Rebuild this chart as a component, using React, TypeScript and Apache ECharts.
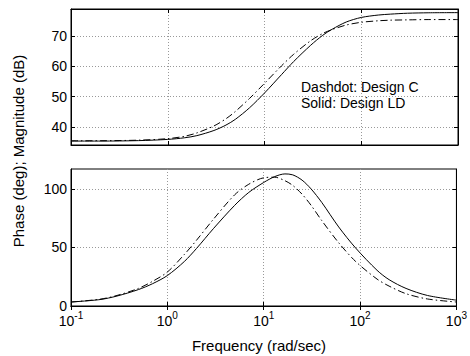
import React, { useEffect, useRef } from "react";
import * as echarts from "echarts";

// Frequencies (rad/sec)
const freqMag = [0.1, 0.2, 0.5, 1, 1.5, 2, 3, 4, 5, 7, 10, 15, 20, 30, 40, 50, 70, 100, 150, 200, 300, 500, 1000];
const magSolid = [35.3, 35.3, 35.45, 35.85, 36.4, 37.1, 38.8, 40.6, 42.5, 46.3, 51.2, 57.3, 61.6, 67.0, 70.3, 72.3, 74.7, 76.2, 77.0, 77.3, 77.6, 77.75, 77.8];
const magDash = [35.4, 35.42, 35.6, 36.1, 36.9, 38.0, 40.3, 42.7, 45.1, 49.4, 54.4, 60.2, 64.0, 68.5, 70.9, 72.2, 73.7, 74.6, 75.1, 75.3, 75.4, 75.5, 75.5];

const freqPh = [0.1, 0.2, 0.3, 0.5, 0.7, 1, 1.5, 2, 3, 5, 7, 10, 13, 16.6, 20, 25, 31, 40, 60, 90, 150, 200, 300, 500, 1000];
const phSolid = [3.4, 5.5, 8.5, 14, 19, 26, 38, 49, 66, 86, 97, 105.5, 110.5, 112.8, 112, 107.5, 100, 88.5, 67.5, 49.5, 30.5, 22.5, 15, 9, 5];
const phDash = [3.4, 5.8, 9.0, 15, 21, 29, 44, 56, 74, 95, 104, 109.5, 110, 107, 103, 95.5, 86, 73, 54, 38, 23, 17, 10.5, 6, 3.4];

const magTicks = [40, 50, 60, 70];
const phTicks = [0, 50, 100];

const FONT = "Liberation Sans, Arial, Helvetica, sans-serif";

export default function App() {
  const ref = useRef<HTMLDivElement>(null);
  useEffect(() => {
    if (!ref.current) return;
    const chart = echarts.init(ref.current, undefined, { renderer: "svg" });
    const grids = [
      { left: 71, right: 12, top: 9, height: 136, show: true, borderColor: "#000", borderWidth: 1, backgroundColor: "#fff" },
      { left: 71, right: 12, top: 169, height: 137, show: true, borderColor: "#000", borderWidth: 1, backgroundColor: "#fff" },
    ];
    const xBase = (gridIndex: number, position: string, labels: boolean, grid: boolean) => ({
      type: "log",
      logBase: 10,
      min: 0.1,
      max: 1000,
      gridIndex,
      position,
      axisLine: { show: true, lineStyle: { color: "#000", width: 1 } },
      axisTick: { show: true, inside: true, length: 4, lineStyle: { color: "#000" } },
      minorTick: { show: false },
      splitLine: { show: grid, lineStyle: { color: "#999", type: [1, 2], width: 1 } },
      axisLabel: {
        show: labels,
        margin: 4,
        fontFamily: FONT,
        color: "#000",
        formatter: (v: number) => `{b|10}{s|${Math.round(Math.log10(v))}}`,
        rich: {
          b: { fontSize: 14, fontFamily: FONT, color: "#000", verticalAlign: "bottom", lineHeight: 18 },
          s: { fontSize: 10, fontFamily: FONT, color: "#000", verticalAlign: "top", lineHeight: 18 },
        },
      },
    });
    const yBase = (gridIndex: number, position: string, labels: boolean, grid: boolean, min: number, max: number, ticks: number[]) => ({
      type: "value",
      gridIndex,
      position,
      min,
      max,
      axisLine: { show: true, lineStyle: { color: "#000", width: 1 } },
      axisTick: { show: true, inside: true, length: 4, customValues: ticks, lineStyle: { color: "#000" } },
      splitLine: { show: grid, lineStyle: { color: "#999", type: [1, 2], width: 1 } },
      axisLabel: { show: labels, customValues: ticks, margin: 4, fontSize: 14, fontFamily: FONT, color: "#000" },
    });
    const magMin = 34, magMax = 79, phMin = 0, phMax = 117;
    const mk = (xs: number[], ys: number[]) => xs.map((x, i) => [x, ys[i]]);
    const dashdot = [7, 3, 1.5, 3];
    chart.setOption({
      animation: false,
      backgroundColor: "#fff",
      grid: grids,
      xAxis: [
        xBase(0, "bottom", false, true),
        xBase(0, "top", false, false),
        xBase(1, "bottom", true, true),
        xBase(1, "top", false, false),
      ],
      yAxis: [
        yBase(0, "left", true, true, magMin, magMax, magTicks),
        yBase(0, "right", false, false, magMin, magMax, magTicks),
        yBase(1, "left", true, true, phMin, phMax, phTicks),
        yBase(1, "right", false, false, phMin, phMax, phTicks),
      ],
      series: [
        { type: "line", xAxisIndex: 0, yAxisIndex: 0, data: mk(freqMag, magSolid), showSymbol: false, smooth: 0.3, lineStyle: { color: "#000", width: 1 } },
        { type: "line", xAxisIndex: 0, yAxisIndex: 0, data: mk(freqMag, magDash), showSymbol: false, smooth: 0.3, lineStyle: { color: "#000", width: 1, type: dashdot } },
        { type: "line", xAxisIndex: 2, yAxisIndex: 2, data: mk(freqPh, phSolid), showSymbol: false, smooth: 0.3, lineStyle: { color: "#000", width: 1 } },
        { type: "line", xAxisIndex: 2, yAxisIndex: 2, data: mk(freqPh, phDash), showSymbol: false, smooth: 0.3, lineStyle: { color: "#000", width: 1, type: dashdot } },
      ],
      graphic: [
        { type: "text", x: 301, y: 87, style: { text: "Dashdot: Design C", fontSize: 14, fontFamily: FONT, fill: "#000", textAlign: "left", textVerticalAlign: "middle" } },
        { type: "text", x: 301, y: 103, style: { text: "Solid: Design LD", fontSize: 14, fontFamily: FONT, fill: "#000", textAlign: "left", textVerticalAlign: "middle" } },
        { type: "text", x: 18, y: 151, rotation: Math.PI / 2, style: { text: "Phase (deg); Magnitude (dB)", fontSize: 15, fontFamily: FONT, fill: "#000", textAlign: "center", textVerticalAlign: "middle" } },
        { type: "text", x: 259, y: 345, style: { text: "Frequency (rad/sec)", fontSize: 15, fontFamily: FONT, fill: "#000", textAlign: "center", textVerticalAlign: "middle" } },
      ],
    });
    return () => chart.dispose();
  }, []);
  return <div ref={ref} style={{ width: 470, height: 356, position: "absolute", left: 0, top: 0 }} />;
}
